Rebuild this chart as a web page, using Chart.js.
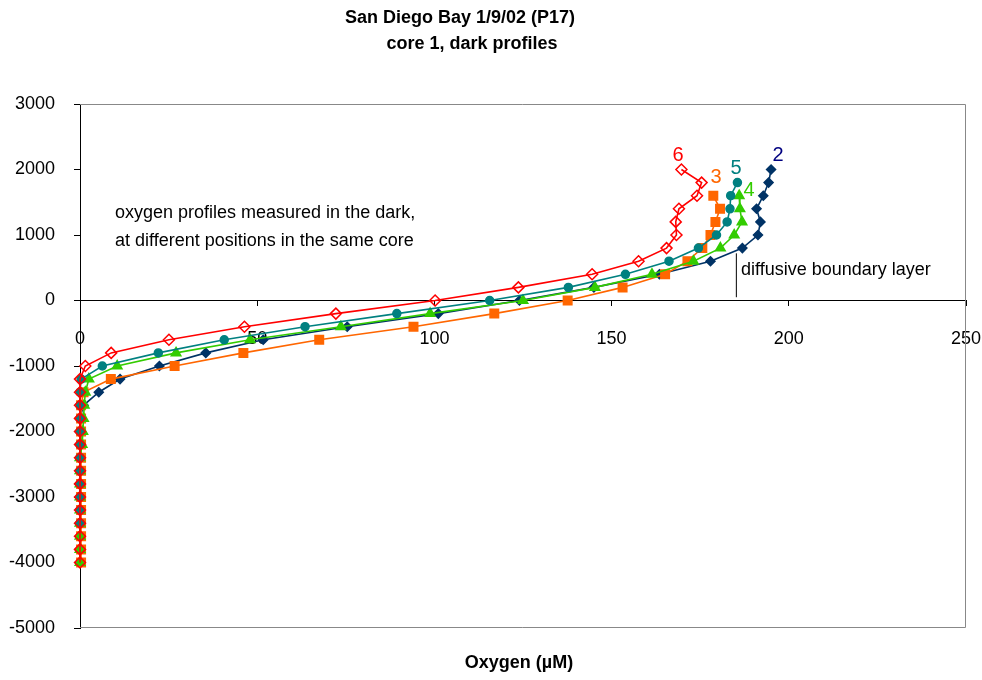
<!DOCTYPE html>
<html>
<head>
<meta charset="utf-8">
<script src="https://cdn.jsdelivr.net/npm/chart.js@4.4.1/dist/chart.umd.min.js"></script>
<style>
  body { margin: 0; background: #fff; }
  #wrap { width: 982px; height: 680px; }
</style>
</head>
<body>
<div id="wrap"><canvas id="profileChart" width="982" height="680"></canvas></div>
<script>
// depth (µm) for every row of the profile
const depths = [2000, 1800, 1600, 1400, 1200, 1000, 800, 600, 400, 200, 0,
  -200, -400, -600, -800, -1000, -1200, -1400, -1600, -1800, -2000, -2200,
  -2400, -2600, -2800, -3000, -3200, -3400, -3600, -3800, -4000];

// oxygen (µM) per profile, null = not measured at that depth
const profile2 = [195.0, 194.3, 192.8, 190.9, 192.0, 191.3, 186.9, 177.9, 163.5, 145.0, 124.0,
  101.1, 75.4, 51.7, 35.5, 22.4, 11.3, 5.3, 1.0, 0, 0, 0,
  0, 0, 0, 0, 0, 0, 0, 0, 0];
const profile3 = [null, null, 178.7, 180.6, 179.3, 177.9, 175.6, 171.4, 165.1, 153.1, 137.6,
  116.9, 94.1, 67.5, 46.1, 26.7, 8.7, 1.0, 0.3, 0.3, 0.3, 0.3,
  0.3, 0.3, 0.3, 0.3, 0.3, 0.3, 0.3, 0.3, 0.3];
const profile4 = [null, null, 186.0, 186.2, 186.8, 184.6, 180.7, 173.1, 161.4, 145.3, 125.0,
  98.8, 73.6, 48.0, 27.1, 10.5, 2.5, 1.5, 1.2, 1.0, 0.8, 0.6,
  0, 0, 0, 0, 0, 0, 0, 0, 0];
const profile5 = [null, 185.5, 183.6, 183.4, 182.6, 179.6, 174.5, 166.2, 153.9, 137.8, 115.6,
  89.4, 63.5, 40.7, 22.1, 6.3, 0.3, 0, 0, 0, 0, 0,
  0, 0, 0, 0, 0, 0, null, null, null];
const profile6 = [169.7, 175.4, 174.1, 169.0, 168.1, 168.3, 165.5, 157.6, 144.5, 123.7, 100.2,
  72.2, 46.4, 25.1, 8.8, 1.5, 0, 0, 0, 0, 0, 0,
  0, 0, 0, 0, 0, 0, 0, 0, 0];

// diffusive boundary layer marker
const dblX = [185.2, 185.2];
const dblY = [50, 720];

const xTicks = [0, 50, 100, 150, 200, 250];
const yTicks = [3000, 2000, 1000, 0, -1000, -2000, -3000, -4000, -5000];

const FONT = "'Liberation Sans', Arial, sans-serif";

function toPoints(xs, ys) {
    const pts = [];
    xs.forEach((v, i) => {
        if (v !== null) pts.push({ x: v, y: ys[i] });
    });
    return pts;
}

function series(label, values, color, style, radius, fill) {
    return {
        label: label,
        data: toPoints(values, depths),
        showLine: true,
        clip: false,
        borderColor: color,
        borderWidth: 1.6,
        pointStyle: style,
        pointRadius: radius,
        pointBackgroundColor: fill,
        pointBorderColor: color,
        pointBorderWidth: 1.5
    };
}

// extra text + plot frame
const annotations = {
    id: 'annotations',
    beforeDatasetsDraw(chart) {
        const a = chart.chartArea;
        const c = chart.ctx;
        c.save();
        c.strokeStyle = '#888888';
        c.lineWidth = 1;
        c.beginPath();
        c.moveTo(a.left, a.top + 0.5);
        c.lineTo(a.right - 0.5, a.top + 0.5);
        c.lineTo(a.right - 0.5, a.bottom - 0.5);
        c.lineTo(a.left, a.bottom - 0.5);
        c.stroke();
        c.restore();
    },
    afterDraw(chart) {
        const c = chart.ctx;
        c.save();
        c.fillStyle = '#000';
        c.textBaseline = 'middle';
        c.textAlign = 'center';
        c.font = 'bold 18px ' + FONT;
        c.fillText('San Diego Bay 1/9/02 (P17)', 460, 18);
        c.fillText('core 1, dark profiles', 472, 44);
        c.fillText('Oxygen (µM)', 519, 663);

        c.textAlign = 'left';
        c.font = '18px ' + FONT;
        c.fillText('oxygen profiles measured in the dark,', 115, 213);
        c.fillText('at different positions in the same core', 115, 241);
        c.fillText('diffusive boundary layer', 741, 270);

        c.font = '20px ' + FONT;
        c.textAlign = 'center';
        const labels = [
            ['6', '#FF0000', 678, 155],
            ['3', '#FF6600', 716, 177],
            ['5', '#008080', 736, 168],
            ['4', '#33CC00', 749, 190],
            ['2', '#000080', 778, 155]
        ];
        labels.forEach(l => {
            c.fillStyle = l[1];
            c.fillText(l[0], l[2], l[3]);
        });
        c.restore();
    }
};

new Chart(document.getElementById('profileChart'), {
    type: 'scatter',
    data: {
        datasets: [
            series('6', profile6, '#FF0000', 'rectRot', 5.5, 'rgba(255,255,255,0)'),
            series('5', profile5, '#008080', 'circle', 4, '#008080'),
            series('4', profile4, '#33CC00', 'triangle', 5.5, '#33CC00'),
            series('3', profile3, '#FF6600', 'rect', 6, '#FF6600'),
            series('2', profile2, '#003366', 'rectRot', 4.5, '#003366'),
            {
                label: 'dbl',
                data: toPoints(dblX, dblY),
                showLine: true,
                borderColor: '#000',
                borderWidth: 1,
                pointRadius: 0
            }
        ]
    },
    options: {
        responsive: false,
        animation: false,
        layout: { padding: { top: 104, bottom: 52, right: 16, left: 0 } },
        plugins: {
            legend: { display: false },
            tooltip: { enabled: false }
        },
        scales: {
            x: {
                type: 'linear',
                position: { y: 0 },
                min: 0,
                max: 250,
                afterBuildTicks: s => { s.ticks = xTicks.map(v => ({ value: v })); },
                afterFit: s => { s.paddingLeft = 0; s.paddingRight = 0; },
                grid: { drawOnChartArea: false, drawTicks: true, tickLength: 5, color: '#000' },
                border: { color: '#000', width: 1 },
                ticks: { color: '#000', font: { family: FONT, size: 18 }, padding: 23, maxRotation: 0,
                    callback: v => String(v) }
            },
            y: {
                type: 'linear',
                min: -5000,
                max: 3000,
                afterBuildTicks: s => { s.ticks = yTicks.map(v => ({ value: v })); },
                afterFit: s => { s.width = 80; s.paddingTop = 0; s.paddingBottom = 0; },
                grid: { drawOnChartArea: false, drawTicks: true, tickLength: 6, color: '#000' },
                border: { color: '#000', width: 1 },
                ticks: { color: '#000', font: { family: FONT, size: 18 }, padding: 19,
                    callback: v => String(v) }
            }
        }
    },
    plugins: [annotations]
});
</script>
</body>
</html>
